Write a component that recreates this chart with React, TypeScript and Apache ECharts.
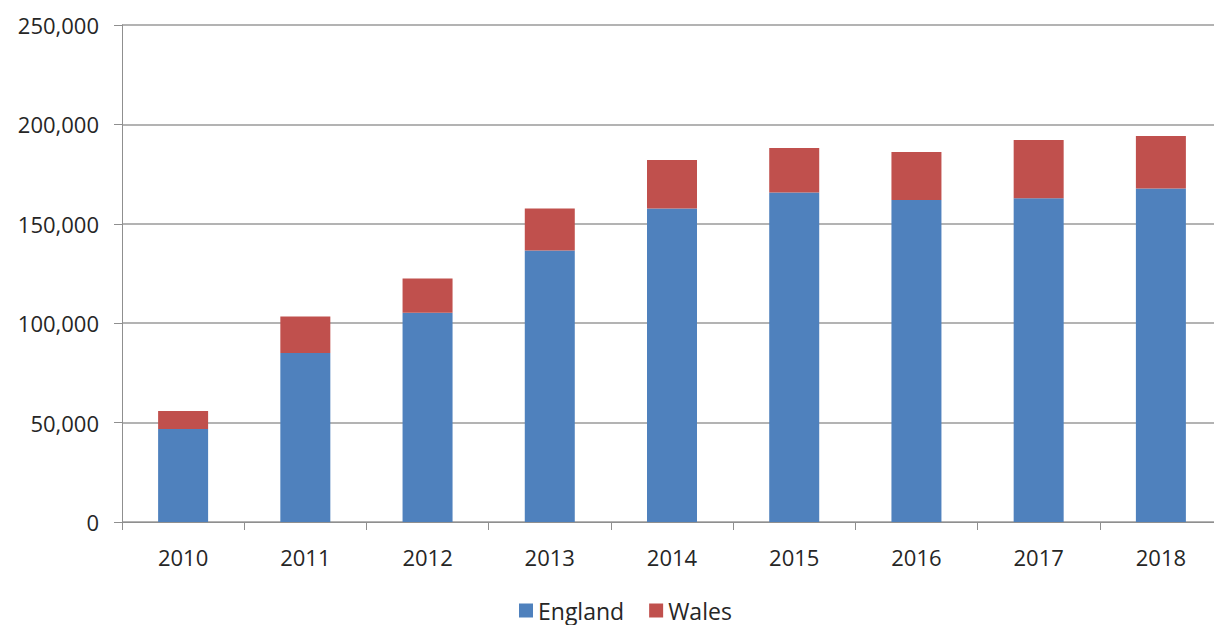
import React, { useEffect, useRef } from "react";
import * as echarts from "echarts";

const years = ["2010", "2011", "2012", "2013", "2014", "2015", "2016", "2017", "2018"];
const england = [46800, 85000, 105300, 136600, 157700, 165800, 162000, 162800, 167800];
const wales = [9000, 18400, 17200, 21100, 24400, 22300, 24100, 29400, 26400];

const FONT = "'Open Sans', 'Noto Sans', sans-serif";
const TEXT = "#262626";
const LINE = "#8f8f8f";

export default function App() {
  const ref = useRef<HTMLDivElement>(null);

  useEffect(() => {
    if (!ref.current) return;
    const chart = echarts.init(ref.current, undefined, { renderer: "svg" });
    chart.setOption({
      animation: false,
      backgroundColor: "#ffffff",
      textStyle: { fontFamily: FONT },
      grid: { left: 122, top: 25, width: 1100, height: 497, containLabel: false },
      legend: {
        top: 599,
        left: 519,
        padding: 0,
        itemWidth: 14,
        itemHeight: 14,
        itemGap: 25,
        icon: "rect",
        textStyle: {
          fontFamily: FONT,
          fontSize: 23,
          lineHeight: 20,
          color: TEXT,
          padding: [0, 0, 0, 0],
        },
        data: ["England", "Wales"],
      },
      xAxis: {
        type: "category",
        data: years,
        axisLine: { lineStyle: { color: LINE, width: 1 } },
        axisTick: { show: true, length: 8, lineStyle: { color: LINE } },
        axisLabel: { fontFamily: FONT, fontSize: 22, color: TEXT, margin: 24 },
      },
      yAxis: {
        type: "value",
        min: 0,
        max: 250000,
        interval: 50000,
        axisLine: { show: true, lineStyle: { color: LINE, width: 1 } },
        axisTick: { show: true, length: 8, lineStyle: { color: LINE } },
        splitLine: { show: true, lineStyle: { color: "#9a9a9a", width: 1.5 } },
        axisLabel: {
          fontFamily: FONT,
          fontSize: 22,
          color: TEXT,
          margin: 23,
          formatter: (v: number) => v.toLocaleString("en-US"),
        },
      },
      series: [
        {
          name: "England",
          type: "bar",
          stack: "total",
          barWidth: 50,
          data: england,
          itemStyle: { color: "#4f81bd" },
        },
        {
          name: "Wales",
          type: "bar",
          stack: "total",
          barWidth: 50,
          data: wales,
          itemStyle: { color: "#c0504d" },
        },
      ],
    });
    return () => chart.dispose();
  }, []);

  return (
    <div
      style={{ position: "absolute", left: 0, top: 0, width: 1214, height: 625, overflow: "hidden" }}
    >
      <div ref={ref} style={{ width: 1230, height: 625 }} />
    </div>
  );
}
